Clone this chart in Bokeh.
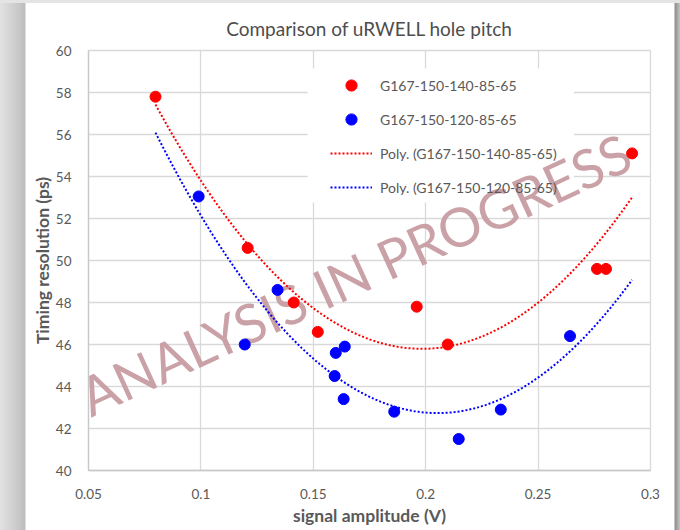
import numpy as np
from bokeh.plotting import figure
from bokeh.models import Legend, LegendItem, BoxAnnotation, Range1d, FixedTicker
from bokeh.core.properties import value
from bokeh.embed import file_html
from bokeh.resources import INLINE

# --- data -------------------------------------------------------------
red_name = "G167-150-140-85-65"
red_amp = [0.0798, 0.1208, 0.1413, 0.1520, 0.1960, 0.2098, 0.2762, 0.2802, 0.2918]
red_res = [57.8, 50.6, 48.0, 46.6, 47.8, 46.0, 49.6, 49.6, 55.1]

blue_name = "G167-150-120-85-65"
blue_amp = [0.0990, 0.1195, 0.1341, 0.1595, 0.1600, 0.1635, 0.1640, 0.1860, 0.2147, 0.2334, 0.2642]
blue_res = [53.05, 46.0, 48.6, 44.5, 45.6, 43.4, 45.9, 42.8, 41.5, 42.9, 46.4]

x_ticks = [0.05, 0.1, 0.15, 0.2, 0.25, 0.3]
y_ticks = [40, 42, 44, 46, 48, 50, 52, 54, 56, 58, 60]

TEXT = "#595959"
FONT = "Lato"

# second-order least-squares trend lines over the measured amplitude span
span = np.linspace(min(red_amp + blue_amp), max(red_amp + blue_amp), 200)
red_fit = np.polyval(np.polyfit(red_amp, red_res, 2), span)
blue_fit = np.polyval(np.polyfit(blue_amp, blue_res, 2), span)

# --- figure -----------------------------------------------------------
p = figure(
    frame_width=562, frame_height=420,
    min_border_left=88, min_border_right=30, min_border_top=50, min_border_bottom=60,
    x_range=Range1d(0.05, 0.3), y_range=Range1d(40, 60),
    output_backend="svg", toolbar_location=None,
    title="Comparison of uRWELL hole pitch",
)
p.styles = {
    "background": (
        "linear-gradient(to bottom, #e4e4e4 0px, #e4e4e4 3px, rgba(0,0,0,0) 3px), "
        "linear-gradient(to right, #e2e2e2 0px, #c6c6c6 20px, #bcbcbc 25px, #ffffff 26px, "
        "#ffffff 674px, #8e8e8e 675px, #c4c4c4 680px)"
    )
}
p.border_fill_color = None
p.background_fill_color = "white"
p.outline_line_color = "#d9d9d9"
p.outline_line_width = 1.3

p.title.align = "center"
p.title.text_font = FONT
p.title.text_font_size = "19px"
p.title.text_font_style = "normal"
p.title.text_color = "#4d4d4d"
p.title.standoff = 22

for ax in (p.xaxis[0], p.yaxis[0]):
    ax.axis_line_color = "#c8c8c8"
    ax.axis_line_width = 1.3
    ax.major_tick_line_color = None
    ax.minor_tick_line_color = None
    ax.major_label_text_font = FONT
    ax.major_label_text_font_size = "13.5px"
    ax.major_label_text_color = TEXT
    ax.axis_label_text_font = FONT
    ax.axis_label_text_font_size = "17.5px"
    ax.axis_label_text_font_style = "bold"
    ax.axis_label_text_color = TEXT

p.xaxis.ticker = FixedTicker(ticks=x_ticks)
p.yaxis.ticker = FixedTicker(ticks=y_ticks)
p.xaxis.major_label_overrides = {0.05: "0.05", 0.1: "0.1", 0.15: "0.15", 0.2: "0.2", 0.25: "0.25", 0.3: "0.3"}
p.xaxis.axis_label = "signal amplitude (V)"
p.yaxis.axis_label = "Timing resolution (ps)"
p.xaxis.major_label_standoff = 12
p.yaxis.major_label_standoff = 11
p.xaxis.axis_label_standoff = 3
p.yaxis.axis_label_standoff = 0

p.xgrid.ticker = FixedTicker(ticks=x_ticks)
p.ygrid.ticker = FixedTicker(ticks=y_ticks)
for g in (p.xgrid[0], p.ygrid[0]):
    g.grid_line_color = "#d9d9d9"
    g.grid_line_width = 1.3

# white panel behind the legend, hiding the grid there
p.add_layout(BoxAnnotation(left=0.1475, right=0.2659, top=59.14, bottom=52.76,
                           fill_color="white", fill_alpha=1.0, line_alpha=0,
                           level="underlay"))

# watermark
p.text(x=[0.1685], y=[49.35], text=["ANALYSIS IN PROGRESS"], angle=0.43,
       text_align="center", text_baseline="alphabetic",
       text_font=value(FONT), text_font_size="54px",
       text_color="#c69ca2", text_alpha=0.95)

r_fit = p.line(span, red_fit, line_color="red", line_width=2, line_dash="2 2")
b_fit = p.line(span, blue_fit, line_color="blue", line_width=2, line_dash="2 2")
r_pts = p.scatter(red_amp, red_res, size=11, color="red")
b_pts = p.scatter(blue_amp, blue_res, size=11, color="blue")

legend = Legend(
    items=[
        LegendItem(label=red_name, renderers=[r_pts]),
        LegendItem(label=blue_name, renderers=[b_pts]),
        LegendItem(label=f"Poly. ({red_name})", renderers=[r_fit]),
        LegendItem(label=f"Poly. ({blue_name})", renderers=[b_fit]),
    ],
    location=(242, 269), margin=0, padding=0, spacing=6,
    glyph_width=42, glyph_height=28, label_height=28, label_standoff=8,
    border_line_alpha=0, background_fill_alpha=0,
    label_text_font=FONT, label_text_font_size="14px", label_text_color=TEXT,
)
p.add_layout(legend)

open("out.html", "w").write(file_html(p, INLINE, title="Comparison of uRWELL hole pitch"))
